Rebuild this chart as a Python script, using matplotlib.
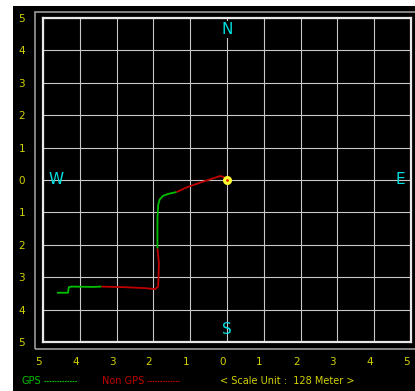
import matplotlib.pyplot as plt
import matplotlib.patches as patches
from matplotlib.lines import Line2D
from matplotlib.transforms import ScaledTranslation

# track points in scale units (east +, north +) with GPS flag per point
track_x = [-4.62, -4.32, -4.30, -4.23, -3.64, -3.41, -2.73, -2.19, -1.96, -1.87,
           -1.85, -1.89, -1.89, -1.87, -1.83, -1.74, -1.60, -1.37, -1.10, -0.65,
           -0.19, -0.10, 0.0]
track_y = [-3.48, -3.48, -3.31, -3.29, -3.30, -3.29, -3.31, -3.34, -3.37, -3.29,
           -2.57, -2.11, -1.18, -0.77, -0.60, -0.49, -0.43, -0.37, -0.23, -0.05,
           0.12, 0.10, 0.0]
track_gps = [1, 1, 1, 1, 1, 0, 0, 0, 0, 0,
             0, 1, 1, 1, 1, 1, 1, 0, 0, 0,
             0, 0, 0]

ticks = [-5, -4, -3, -2, -1, 0, 1, 2, 3, 4, 5]
tick_labels = [str(abs(t)) for t in ticks]
compass = [("N", 0, 4.65), ("S", 0, -4.6), ("W", -4.65, 0), ("E", 4.7, 0)]
scale_unit = 128

W, H = 415, 391
GREEN = '#00c000'
RED = '#c00000'
YELLOW = '#d2d200'
CYAN = '#00e0e0'

fig = plt.figure(figsize=(W / 100, H / 100), dpi=100)
fig.patch.set_facecolor('white')


def fx(px):
    return px / W


def fy(py):
    return 1 - py / H


# black panel and outer frame
fig.patches.append(patches.Rectangle((fx(13), 0), 1 - fx(13), fy(6), transform=fig.transFigure,
                                     facecolor='black', edgecolor='none', zorder=-10))
fig.patches.append(patches.Rectangle((fx(35), fy(349)), fx(420) - fx(35), fy(12) - fy(349),
                                     transform=fig.transFigure, facecolor='none',
                                     edgecolor='#9a9a9a', linewidth=1.2, zorder=-5))

ax = fig.add_axes([fx(43), fy(342), fx(411) - fx(43), fy(18) - fy(342)])
ax.set_facecolor('black')
ax.set_xlim(-5, 5)
ax.set_ylim(-5, 5)
ax.set_xticks(ticks)
ax.set_yticks(ticks)
ax.set_xticklabels(tick_labels)
ax.set_yticklabels(tick_labels)
ax.tick_params(length=0, colors=YELLOW, labelsize=7.5)
ax.tick_params(axis='x', pad=11)
ax.tick_params(axis='y', pad=13)
for lbl in ax.get_xticklabels():
    lbl.set_transform(lbl.get_transform() + ScaledTranslation(-4.5 / 100, 0, fig.dpi_scale_trans))
ax.grid(True, color='#c8c8c8', linewidth=0.8)
ax.set_axisbelow(True)
for sp in ax.spines.values():
    sp.set_color('#e8e8e8')
    sp.set_linewidth(1.6)

# track, split into runs by GPS flag
start = 0
for i in range(1, len(track_x)):
    if track_gps[i] != track_gps[start] or i == len(track_x) - 1:
        color = GREEN if track_gps[start] else RED
        ax.plot(track_x[start:i + 1], track_y[start:i + 1], color=color, linewidth=1.3,
                solid_capstyle='butt', zorder=3)
        start = i

# current position
ax.plot(0, 0, 'o', color='#ffff30', markersize=6.5, markeredgewidth=0, zorder=4)
ax.plot(0, 0, 'o', color='#e02000', markersize=2, markeredgewidth=0, zorder=5)

for name, cx, cy in compass:
    ax.text(cx, cy, name, color=CYAN, fontsize=11, ha='center', va='center', zorder=6,
            bbox=dict(facecolor='black', edgecolor='none', pad=0.5) if name == 'N' else None)

# legend row
ly = fy(381)
fig.text(fx(21), ly, "GPS", color=GREEN, fontsize=7, va='center')
fig.lines.append(Line2D([fx(44), fx(77)], [ly, ly], transform=fig.transFigure,
                        color=GREEN, linewidth=0.8, linestyle=(0, (1.5, 0.8))))
fig.text(fx(102), ly, "Non GPS", color=RED, fontsize=7, va='center')
fig.lines.append(Line2D([fx(147), fx(179)], [ly, ly], transform=fig.transFigure,
                        color=RED, linewidth=0.8, linestyle=(0, (1.5, 0.8))))
fig.text(fx(220), ly, "< Scale Unit :  %d Meter >" % scale_unit, color=YELLOW, fontsize=7,
         va='center')

fig.savefig('out.png', dpi=100)
